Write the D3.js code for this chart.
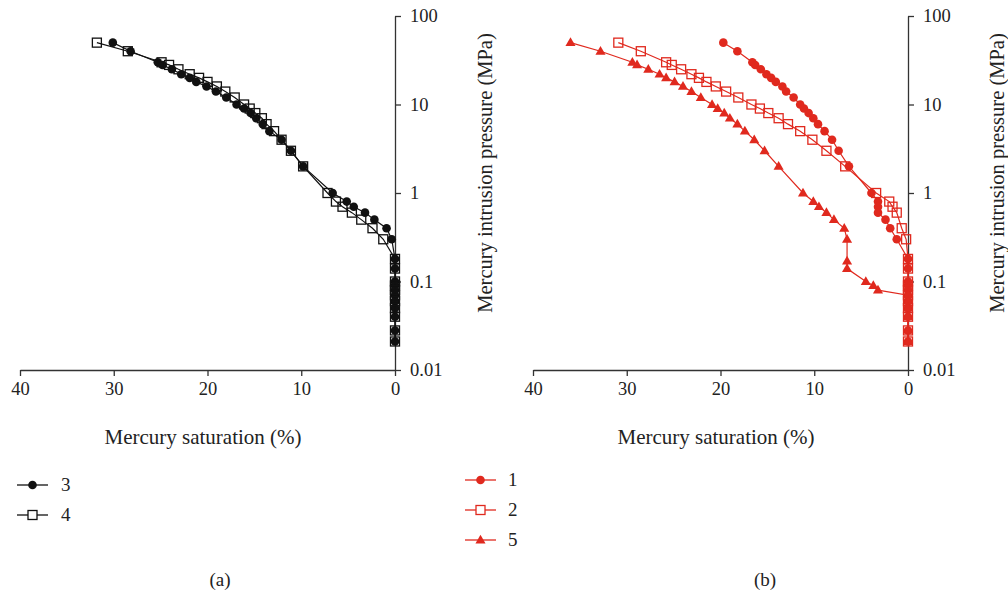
<!DOCTYPE html>
<html>
<head>
<meta charset="utf-8">
<script src="https://cdn.jsdelivr.net/npm/d3@7"></script>
<style>
  html, body { margin: 0; padding: 0; background: #fff; }
  svg { display: block; }
  svg text { font-family: "Liberation Serif", "Times New Roman", serif; fill: #222; }
</style>
</head>
<body>
<svg id="chart" width="1008" height="591"></svg>
<script>
// Mercury intrusion curves: saturation (%) against intrusion pressure (MPa)
const xTicks = [40, 30, 20, 10, 0];
const yTicks = [100, 10, 1, 0.1, 0.01];
const yTickLabels = ["100", "10", "1", "0.1", "0.01"];

// pressure steps shared by all samples
const pressureSteps = [50, 40, 30, 28, 25, 22, 20, 18, 16, 14, 12, 10, 9, 8, 7, 6, 5, 4, 3, 2, 1, 0.8, 0.7, 0.6, 0.5, 0.4, 0.3];
const lowSteps = [0.18, 0.14, 0.1, 0.09, 0.08, 0.07, 0.06, 0.05, 0.04, 0.028, 0.021];

// sample 3
const sat3 = [30.1, 28.2, 25.3, 24.8, 23.8, 22.8, 21.9, 21.2, 20.1, 19.1, 18.0, 16.9, 16.1, 15.4, 14.8, 14.1, 13.4, 12.1, 11.1, 9.8, 6.65, 5.15, 4.4, 3.2, 2.2, 0.9, 0.35];
// sample 4
const sat4 = [31.8, 28.5, 24.9, 24.1, 23.1, 21.9, 20.9, 20.0, 19.0, 18.1, 17.1, 16.1, 15.5, 14.9, 14.2, 13.7, 12.9, 12.1, 11.1, 9.8, 7.2, 6.3, 5.6, 4.6, 3.6, 2.4, 1.25];
// sample 1
const sat1 = [19.7, 18.2, 16.6, 16.3, 15.7, 15.1, 14.6, 14.1, 13.4, 13.0, 12.2, 11.5, 11.1, 10.6, 10.1, 9.6, 8.9, 8.1, 7.4, 6.3, 3.9, 3.2, 3.2, 3.2, 2.4, 1.9, 1.2];
// sample 2 (no reading at 0.5 MPa)
const pres2 = [50, 40, 30, 28, 25, 22, 20, 18, 16, 14, 12, 10, 9, 8, 7, 6, 5, 4, 3, 2, 1, 0.8, 0.7, 0.6, 0.4, 0.3];
const sat2 = [30.9, 28.5, 25.8, 25.2, 24.2, 23.1, 22.3, 21.5, 20.5, 19.4, 18.1, 16.7, 15.8, 14.9, 13.8, 12.8, 11.5, 10.2, 8.7, 6.7, 3.4, 2.0, 1.65, 1.2, 0.67, 0.2];
// sample 5
const pres5 = [50, 40, 30, 28, 25, 22, 20, 18, 16, 14, 12, 10, 9, 8, 7, 6, 5, 4, 3, 2, 1, 0.8, 0.7, 0.6, 0.5, 0.4, 0.3, 0.17, 0.14, 0.1, 0.09, 0.08, 0.07, 0.06, 0.05, 0.04, 0.028, 0.021];
const sat5 = [36.0, 32.8, 29.4, 28.9, 27.7, 26.5, 25.8, 24.9, 24.0, 23.1, 22.1, 20.9, 20.3, 19.6, 19.0, 18.2, 17.4, 16.4, 15.3, 13.8, 11.2, 10.1, 9.5, 8.7, 7.9, 6.8, 6.5, 6.5, 6.5, 4.5, 3.7, 3.2, 0, 0, 0, 0, 0, 0];

const RED = "#e0291e";
const BLACK = "#111111";

function zip(sat, pres) {
  return sat.map((s, i) => ({ s: s, p: pres[i] }));
}
function withTail(sat, pres) {
  return zip(sat, pres).concat(lowSteps.map(p => ({ s: 0, p: p })));
}

const panels = [
  {
    x0: 20, x1: 395, caption: "(a)", capX: 220, titleX: 485,
    legend: { x0: 17, x1: 48, y: [485, 515], tx: 61 },
    series: [
      { name: "3", shape: "circle", color: BLACK, data: withTail(sat3, pressureSteps) },
      { name: "4", shape: "square", color: BLACK, data: withTail(sat4, pressureSteps) }
    ]
  },
  {
    x0: 533, x1: 908, caption: "(b)", capX: 765, titleX: 997,
    legend: { x0: 465, x1: 496, y: [480, 510, 540], tx: 508 },
    series: [
      { name: "1", shape: "circle", color: RED, data: withTail(sat1, pressureSteps) },
      { name: "2", shape: "square", color: RED, data: withTail(sat2, pres2) },
      { name: "5", shape: "triangle", color: RED, data: zip(sat5, pres5) }
    ]
  }
];

const svg = d3.select("#chart");
const yTop = 16, yBottom = 370;
const axisColor = "#333";

function drawMarker(g, shape, color, x, y, legend) {
  if (shape === "circle") {
    g.append("circle").attr("cx", x).attr("cy", y).attr("r", 4.3)
      .attr("fill", color).attr("stroke", "none");
  } else if (shape === "square") {
    g.append("rect").attr("x", x - 4.5).attr("y", y - 4.5)
      .attr("width", 9).attr("height", 9)
      .attr("fill", legend ? "#fff" : "none").attr("stroke", color).attr("stroke-width", 1.3);
  } else {
    g.append("path").attr("transform", `translate(${x},${y + 0.5})`)
      .attr("d", d3.symbol(d3.symbolTriangle, 44)())
      .attr("fill", color);
  }
}

panels.forEach(pn => {
  const x = d3.scaleLinear().domain([40, 0]).range([pn.x0, pn.x1]);
  const y = d3.scaleLog().domain([0.01, 100]).range([yBottom, yTop]);

  const g = svg.append("g");

  // x axis along the bottom
  const xAxis = d3.axisBottom(x).tickValues(xTicks).tickSize(6).tickSizeOuter(0)
    .tickFormat(d3.format("d"));
  const gx = g.append("g").attr("transform", `translate(0,${yBottom})`).call(xAxis)
    .attr("font-family", null).attr("font-size", null);
  gx.select(".domain").attr("stroke", axisColor).attr("stroke-width", 1.3);
  gx.selectAll(".tick line").attr("stroke", axisColor).attr("stroke-width", 1.3);
  gx.selectAll(".tick text").attr("font-size", 18.5).attr("fill", null)
    .attr("y", 12).attr("dy", "0.71em");

  // y axis at zero saturation, ticks facing right
  const yAxis = d3.axisRight(y).tickValues(yTicks).tickSize(6).tickSizeOuter(0)
    .tickFormat((d, i) => yTickLabels[i]);
  const gy = g.append("g").attr("transform", `translate(${pn.x1},0)`).call(yAxis)
    .attr("font-family", null).attr("font-size", null);
  gy.select(".domain").attr("stroke", axisColor).attr("stroke-width", 1.3);
  gy.selectAll(".tick line").attr("stroke", axisColor).attr("stroke-width", 1.3);
  gy.selectAll(".tick text").attr("font-size", 18.5).attr("fill", null)
    .attr("x", 15).attr("dy", "0.32em");

  // axis titles
  g.append("text").attr("x", (pn.x0 + pn.x1) / 2 - 4.5).attr("y", 444)
    .attr("text-anchor", "middle").attr("font-size", 21)
    .text("Mercury saturation (%)");
  g.append("text").attr("transform", `translate(${pn.titleX},${173}) rotate(-90)`)
    .attr("text-anchor", "middle").attr("dy", "0.35em").attr("font-size", 20.5)
    .text("Mercury intrusion pressure (MPa)");

  // curves
  const line = d3.line().x(d => x(d.s)).y(d => y(d.p));
  pn.series.forEach(sr => {
    const sg = g.append("g");
    sg.append("path").datum(sr.data).attr("d", line)
      .attr("fill", "none").attr("stroke", sr.color).attr("stroke-width", 1.2);
    sr.data.forEach(d => drawMarker(sg, sr.shape, sr.color, x(d.s), y(d.p), false));
  });

  // legend
  pn.series.forEach((sr, i) => {
    const ly = pn.legend.y[i];
    const lg = g.append("g");
    lg.append("line").attr("x1", pn.legend.x0).attr("x2", pn.legend.x1)
      .attr("y1", ly).attr("y2", ly).attr("stroke", sr.color).attr("stroke-width", 1.3);
    drawMarker(lg, sr.shape, sr.color, (pn.legend.x0 + pn.legend.x1) / 2, ly, true);
    lg.append("text").attr("x", pn.legend.tx).attr("y", ly).attr("dy", "0.3em")
      .attr("font-size", 19).text(sr.name);
  });

  // panel caption
  g.append("text").attr("x", pn.capX).attr("y", 579).attr("dy", "0.35em")
    .attr("text-anchor", "middle").attr("font-size", 19)
    .text(pn.caption);
});
</script>
</body>
</html>
